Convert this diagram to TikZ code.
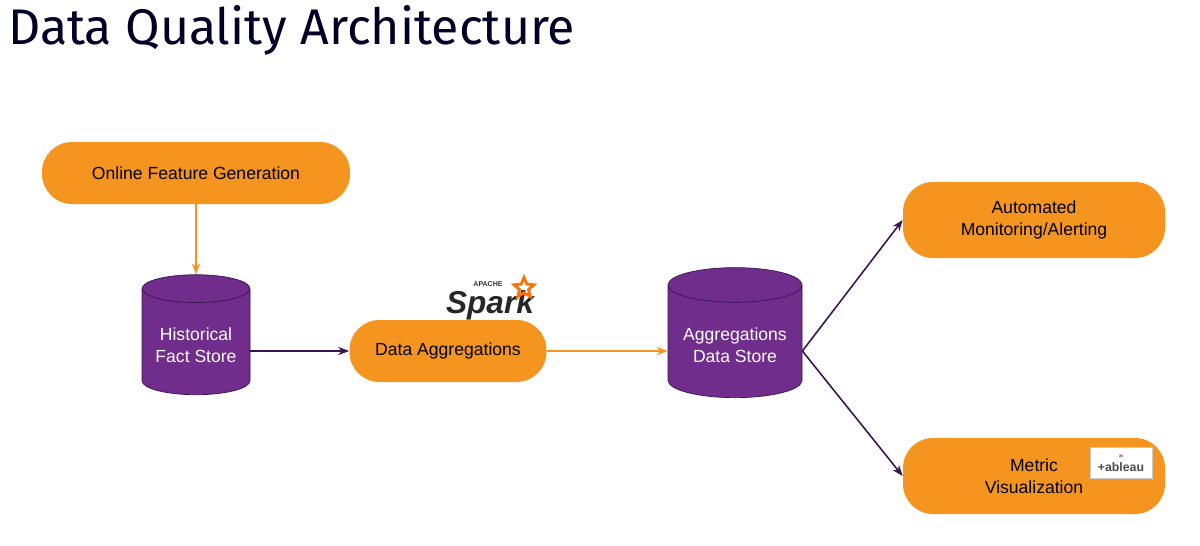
\documentclass[tikz,border=0pt]{standalone}
\usepackage{fontspec}
\setmainfont{Liberation Sans}
\newfontfamily\titlefont{Fira Sans}
\usetikzlibrary{shapes.geometric, arrows.meta}
\definecolor{myorange}{RGB}{245,148,30}
\definecolor{mypurple}{RGB}{112,45,140}
\definecolor{mydarkpurple}{RGB}{60,20,80}
\begin{document}
\begin{tikzpicture}[x=0.02cm, y=-0.02cm, >={Stealth[length=2.2mm]},
  pill/.style={rounded corners=0.6cm, fill=myorange, draw=none, font=\fontsize{10}{12.5}\selectfont, align=center, text=black},
  store/.style={cylinder, shape border rotate=90, aspect=0.3, fill=mypurple, draw=mydarkpurple, text=white, align=center, font=\fontsize{10}{12.5}\selectfont},
  purplearrow/.style={->, mydarkpurple, line width=0.9pt},
  orangearrow/.style={->, myorange, line width=0.9pt}]
  \useasboundingbox (0,0) rectangle (1200,545);
  \node[anchor=west, font=\titlefont\fontsize{28.5}{32}\selectfont, text=black!85!blue] (title) at (2,30) {Data Quality Architecture};

  \node[pill, minimum width=308*0.02cm, minimum height=62*0.02cm] (ofg) at (196,173) {Online Feature Generation};
  \node[store, minimum width=108*0.02cm, minimum height=120*0.02cm] (hfs) at (196,345) {Historical\\Fact Store};
  \node[pill, minimum width=197*0.02cm, minimum height=62*0.02cm] (agg) at (448,351) {Data Aggregations};
  \node[store, minimum width=134*0.02cm, minimum height=130*0.02cm] (ads) at (735,345) {Aggregations\\Data Store};
  \node[pill, minimum width=262*0.02cm, minimum height=76*0.02cm] (mon) at (1034,220) {Automated\\Monitoring/Alerting};
  \node[pill, minimum width=262*0.02cm, minimum height=76*0.02cm] (viz) at (1034,476) {Metric\\Visualization};

  % logos
  \node[font=\fontsize{4}{4}\selectfont\bfseries, text=black!80, inner sep=0pt] (apache) at (488,284) {APACHE};
  \node[font=\fontsize{18}{18}\selectfont\bfseries\itshape, text=black!85, inner sep=0pt] (spark) at (490,305) {Spark};
  \node[star, star points=5, star point ratio=2.2, draw=orange!90!red, line width=1.6pt, minimum size=0.42cm, inner sep=0pt] (star) at (524,288) {};
  \node[fill=white, draw=black!20, minimum width=62*0.02cm, minimum height=31*0.02cm, inner sep=1pt, align=center, font=\fontsize{7}{7}\selectfont\bfseries, text=black!70] (tab) at (1121,463) {{\color{red!60!blue}\fontsize{5}{5}\selectfont$\ast$}\\+ableau};

  \draw[orangearrow] (ofg.south) -- (hfs.top);
  \draw[purplearrow] (hfs.east |- agg.west) -- (agg.west);
  \draw[orangearrow] (agg.east) -- (ads.west |- agg.east);
  \draw[purplearrow] (ads.east |- agg.east) -- (mon.west);
  \draw[purplearrow] (ads.east |- agg.east) -- (viz.west);
\end{tikzpicture}
\end{document}
